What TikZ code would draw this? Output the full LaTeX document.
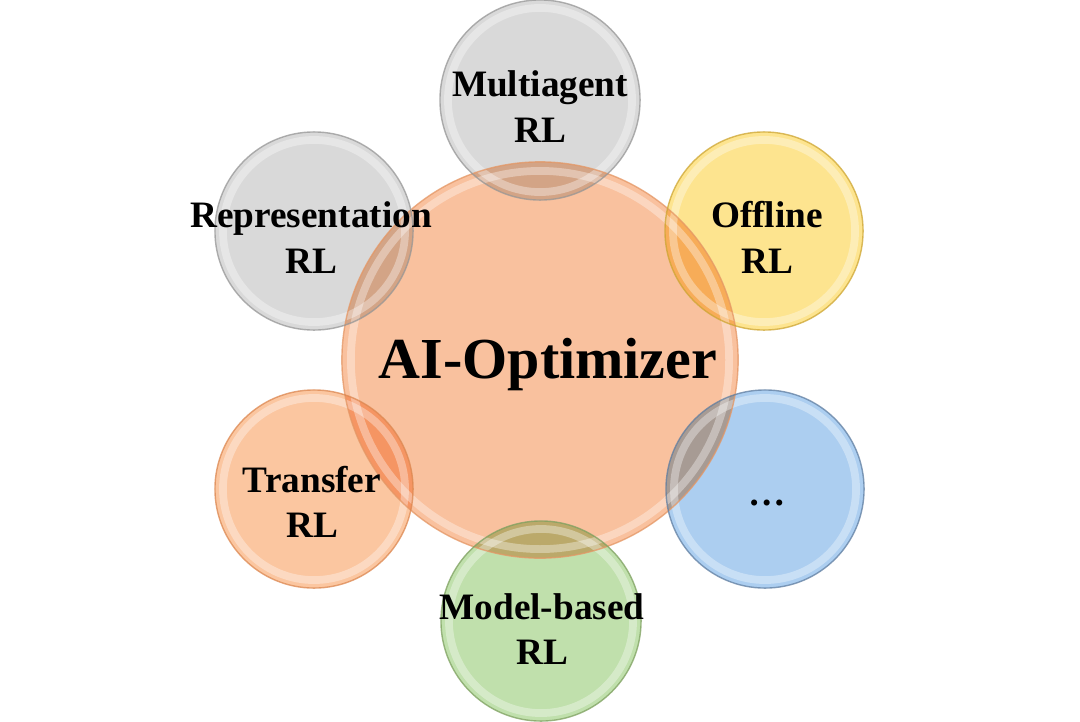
\documentclass[tikz,border=0pt]{standalone}
\usepackage{fontspec}
\setmainfont{Liberation Serif}
\begin{document}
\begin{tikzpicture}[x=0.01cm,y=-0.01cm]
\definecolor{cGray}{RGB}{217,217,217}
\definecolor{eGray}{RGB}{150,150,150}
\definecolor{cYel}{RGB}{253,228,143}
\definecolor{eYel}{RGB}{205,165,50}
\definecolor{cBlue}{RGB}{172,206,240}
\definecolor{eBlue}{RGB}{95,125,160}
\definecolor{cGreen}{RGB}{192,224,172}
\definecolor{eGreen}{RGB}{125,160,95}
\definecolor{cTra}{RGB}{251,198,160}
\definecolor{eTra}{RGB}{220,135,80}
\definecolor{cCen}{RGB}{249,193,158}
\definecolor{eCen}{RGB}{228,150,100}
\tikzset{
  bub/.style={circle, inner sep=0pt, fill=#1},
  rim/.style={draw=#1, line width=0.4pt, draw opacity=0.75},
  shine/.style={draw=white, line width=2.2pt, draw opacity=0.35},
  lab/.style={font=\fontsize{10.6}{12.8}\selectfont\bfseries, align=center, anchor=base, inner sep=0pt},
}
\useasboundingbox (0,0) rectangle (1080,721);
% fills
\node[bub=cCen, minimum size=3.96cm] (cen) at (540,360) {};
\begin{scope}[blend mode=multiply]
\node[bub=cGray, minimum size=2.0cm] (ma) at (540,100) {};
\node[bub=cGray, minimum size=1.98cm] (rep) at (314,231) {};
\node[bub=cYel, minimum size=1.98cm] (off) at (764,231) {};
\node[bub=cTra, minimum size=1.98cm] (tra) at (314,489) {};
\node[bub=cBlue, minimum size=1.98cm] (dots) at (765,489) {};
\node[bub=cGreen, minimum size=2.0cm] (mb) at (541,621) {};
\end{scope}
% glossy rings
\foreach \n/\r in {cen/1.89cm, ma/0.92cm, rep/0.91cm, off/0.91cm, tra/0.91cm, dots/0.91cm, mb/0.92cm}{
  \draw[shine] (\n.center) circle[radius=\r];
}
% rims
\draw[rim=eCen] (cen.center) circle[radius=1.98cm];
\draw[rim=eGray] (ma.center) circle[radius=1.0cm];
\draw[rim=eGray] (rep.center) circle[radius=0.99cm];
\draw[rim=eYel] (off.center) circle[radius=0.99cm];
\draw[rim=eTra] (tra.center) circle[radius=0.99cm];
\draw[rim=eBlue] (dots.center) circle[radius=0.99cm];
\draw[rim=eGreen] (mb.center) circle[radius=1.0cm];
% labels (base = last line)
\node[lab] (tma) at (540,142) {Multiagent\\RL};
\node[lab] (trep) at (311,273) {Representation\\RL};
\node[lab] (toff) at (767,273) {Offline\\RL};
\node[lab] (ttra) at (312,537) {Transfer\\RL};
\node[lab] (tmb) at (542,664) {Model-based\\RL};
\node[lab] (tdots) at (767,505) {…};
\node[lab, font=\fontsize{16.5}{19}\selectfont\bfseries] (tcen) at (548,378) {AI-Optimizer};
\end{tikzpicture}
\end{document}
